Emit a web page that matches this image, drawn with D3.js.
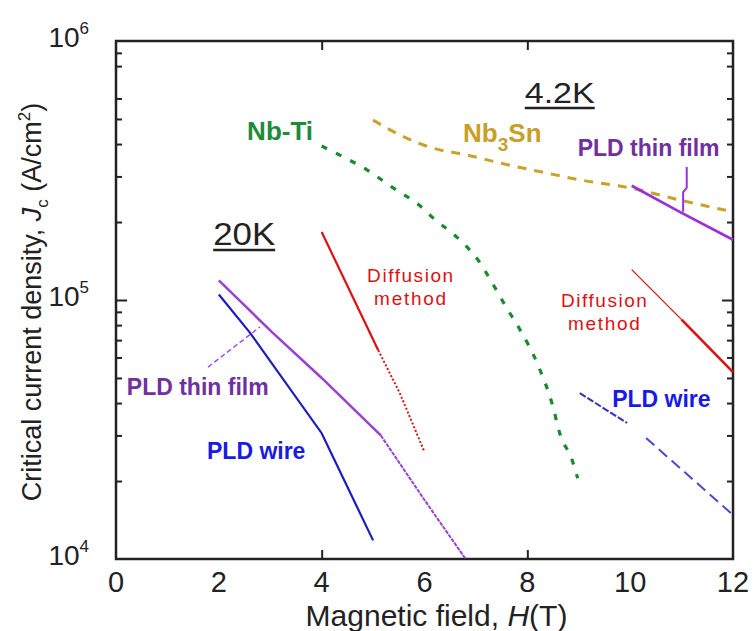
<!DOCTYPE html>
<html>
<head>
<meta charset="utf-8">
<script src="https://cdn.jsdelivr.net/npm/d3@7"></script>
<style>
  body { margin: 0; background: #fff; }
  text { font-family: Arial, "Liberation Sans", sans-serif; }
</style>
</head>
<body>
<script>
// tick values
var xTickLabels = [0, 2, 4, 6, 8, 10, 12];
var xTickMarks = [4, 8];
var yExponents = [4, 5, 6];
var yMinor = [2e4, 3e4, 4e4, 5e4, 6e4, 7e4, 8e4, 9e4, 2e5, 3e5, 4e5, 5e5, 6e5, 8e5, 9e5];

// curves: magnetic field H (T) and Jc (A/cm2)
var nbTiH  = [4.0, 4.3, 4.88, 5.39, 5.9, 6.16, 6.75, 7.05, 7.3, 7.6, 7.86, 8.19, 8.5, 8.63, 8.87, 8.98];
var nbTiJc = [3.93e5, 3.67e5, 3.18e5, 2.71e5, 2.32e5, 2.08e5, 1.66e5, 1.42e5, 1.18e5, 9.3e4, 7.66e4, 5.71e4, 3.86e4, 3.06e4, 2.41e4, 2.05e4];

var nb3SnH  = [5.0, 5.52, 6.16, 6.83, 7.47, 8.38, 9.02, 10.0, 10.97, 12.0];
var nb3SnJc = [4.95e5, 4.34e5, 3.86e5, 3.63e5, 3.38e5, 3.09e5, 2.91e5, 2.71e5, 2.43e5, 2.19e5];

var film20H  = [2.0, 3.05, 4.0, 5.15];
var film20Jc = [1.19e5, 7.46e4, 5.0e4, 3.0e4];
var film20bH  = [5.15, 6.0, 6.8];
var film20bJc = [3.0e4, 1.69e4, 1.0e4];

var wire20H  = [2.0, 2.6, 4.0, 5.0];
var wire20Jc = [1.05e5, 7.5e4, 3.06e4, 1.18e4];

var diff20H  = [4.0, 5.1];
var diff20Jc = [1.83e5, 6.4e4];
var diff20bH  = [5.1, 5.52, 6.0];
var diff20bJc = [6.4e4, 4.37e4, 2.59e4];

var film4H  = [10.03, 11.0, 12.0];
var film4Jc = [2.76e5, 2.17e5, 1.71e5];

var diff4H  = [10.03, 11.0];
var diff4Jc = [1.31e5, 8.4e4];
var diff4bH  = [11.0, 12.0];
var diff4bJc = [8.4e4, 5.27e4];

var wire4H  = [9.02, 9.94];
var wire4Jc = [4.37e4, 3.35e4];
var wire4bH  = [10.31, 12.0];
var wire4bJc = [2.93e4, 1.48e4];

// leader lines
var lead20H  = [1.79, 2.8];
var lead20Jc = [5.51e4, 7.87e4];
var lead4H  = [11.1, 11.1, 11.03, 11.03];
var lead4Jc = [3.26e5, 2.71e5, 2.61e5, 2.19e5];

var W = 756, H = 631;
var margin = {top: 41, right: 23, bottom: 72, left: 116};

var svg = d3.select('body').append('svg')
    .attr('width', W)
    .attr('height', H);

var x = d3.scaleLinear().domain([0, 12]).range([margin.left, W - margin.right]);
var y = d3.scaleLog().domain([1e4, 1e6]).range([H - margin.bottom, margin.top]);

function zip(a, b) {
    return a.map(function (v, i) { return [v, b[i]]; });
}

var line = d3.line()
    .x(function (d) { return x(d[0]); })
    .y(function (d) { return y(d[1]); });
var smooth = d3.line()
    .curve(d3.curveMonotoneX)
    .x(function (d) { return x(d[0]); })
    .y(function (d) { return y(d[1]); });

// ticks (inward)
function tickAxis(axis, transform) {
    var g = svg.append('g').attr('transform', transform).call(axis);
    g.select('.domain').remove();
    g.selectAll('.tick line').attr('stroke', '#222').attr('stroke-width', 2);
    g.selectAll('.tick text').remove();
}
var x0 = x(0), x1 = x(12), yb = y(1e4), yt = y(1e6);
tickAxis(d3.axisBottom(x).tickValues(xTickMarks).tickSize(-9), 'translate(0,' + yb + ')');
tickAxis(d3.axisTop(x).tickValues(xTickMarks).tickSize(-9), 'translate(0,' + yt + ')');
tickAxis(d3.axisLeft(y).tickValues(yMinor).tickSize(-6), 'translate(' + x0 + ',0)');
tickAxis(d3.axisLeft(y).tickValues([1e5]).tickSize(-11), 'translate(' + x0 + ',0)');
tickAxis(d3.axisRight(y).tickValues(yMinor).tickSize(-6), 'translate(' + x1 + ',0)');
tickAxis(d3.axisRight(y).tickValues([1e5]).tickSize(-11), 'translate(' + x1 + ',0)');

// frame
svg.append('rect')
    .attr('x', x0).attr('y', yt)
    .attr('width', x1 - x0).attr('height', yb - yt)
    .attr('fill', 'none')
    .attr('stroke', '#222')
    .attr('stroke-width', 2.5);

// tick labels
svg.selectAll('.xlab')
    .data(xTickLabels)
    .enter().append('text')
    .attr('class', 'xlab')
    .attr('x', function (d) { return x(d); })
    .attr('y', yb + 33)
    .attr('text-anchor', 'middle')
    .attr('font-size', 29)
    .attr('fill', '#222')
    .text(function (d) { return d; });

var ylab = svg.selectAll('.ylab')
    .data(yExponents)
    .enter().append('text')
    .attr('class', 'ylab')
    .attr('x', 89)
    .attr('y', function (d) { return y(Math.pow(10, d)) + 6; })
    .attr('text-anchor', 'end')
    .attr('font-size', 28)
    .attr('fill', '#222');
ylab.append('tspan').text('10');
ylab.append('tspan').attr('font-size', 17).attr('dy', -13).text(function (d) { return d; });

// axis titles
var xt = svg.append('text')
    .attr('x', (x0 + x1) / 2 + 12)
    .attr('y', 626)
    .attr('text-anchor', 'middle')
    .attr('font-size', 30)
    .attr('fill', '#222');
xt.append('tspan').text('Magnetic field, ');
xt.append('tspan').attr('font-style', 'italic').text('H');
xt.append('tspan').text('(T)');

var yt2 = svg.append('text')
    .attr('transform', 'translate(41,' + ((yt + yb) / 2 + 2) + ') rotate(-90)')
    .attr('text-anchor', 'middle')
    .attr('font-size', 27)
    .attr('fill', '#222');
yt2.append('tspan').text('Critical current density, ');
yt2.append('tspan').attr('font-style', 'italic').text('J');
yt2.append('tspan').attr('font-size', 17).attr('dy', 7).text('c');
yt2.append('tspan').attr('dy', -7).text(' (A/cm');
yt2.append('tspan').attr('font-size', 17).attr('dy', -11).text('2');
yt2.append('tspan').attr('dy', 11).text(')');

// curves
function curve(h, j, color, width, dash, gen) {
    svg.append('path')
        .datum(zip(h, j))
        .attr('d', gen || line)
        .attr('fill', 'none')
        .attr('stroke', color)
        .attr('stroke-width', width)
        .attr('stroke-dasharray', dash || null);
}

curve(nb3SnH, nb3SnJc, '#c9a227', 3, '9,8', smooth);
curve(nbTiH, nbTiJc, '#1a8a30', 3.2, '6,10', smooth);
curve(film20H, film20Jc, '#9b3fd6', 2.5);
curve(film20bH, film20bJc, '#9b3fd6', 2, '4,1');
curve(wire20H, wire20Jc, '#1c1cc0', 2.2);
curve(diff20H, diff20Jc, '#e01010', 2.2);
curve(diff20bH, diff20bJc, '#e01010', 2, '2,2');
curve(film4H, film4Jc, '#9b30d9', 2.8);
curve(diff4H, diff4Jc, '#e01010', 1.3);
curve(diff4bH, diff4bJc, '#e01010', 2.6);
curve(wire4H, wire4Jc, '#3030c8', 2, '7,2');
curve(wire4bH, wire4bJc, '#4848d0', 2, '11,6');
curve(lead20H, lead20Jc, '#a050e0', 1.5, '5,3');
curve(lead4H, lead4Jc, '#9b30d9', 2);

// labels
function label(h, j, txt, color, size, weight) {
    return svg.append('text')
        .attr('x', x(h))
        .attr('y', y(j))
        .attr('font-size', size)
        .attr('font-weight', weight || 'normal')
        .attr('fill', color)
        .text(txt);
}

function underlined(h, j, txt, size, len) {
    var t = label(h, j, txt, '#222', size);
    t.attr('textLength', len).attr('lengthAdjust', 'spacingAndGlyphs');
    svg.append('line')
        .attr('x1', x(h)).attr('x2', x(h) + len)
        .attr('y1', y(j) + 5).attr('y2', y(j) + 5)
        .attr('stroke', '#222').attr('stroke-width', 2.5);
}
underlined(1.89, 1.63e5, '20K', 31, 62);
underlined(7.95, 5.76e5, '4.2K', 29, 70);

label(2.55, 4.15e5, 'Nb-Ti', '#1e8a3a', 26, 'bold');
var sn = label(6.75, 4.07e5, 'Nb', '#c8a028', 26, 'bold');
sn.append('tspan').attr('font-size', 19).attr('dy', 9).text('3');
sn.append('tspan').attr('dy', -9).text('Sn');

label(8.98, 3.6e5, 'PLD thin film', '#7030a0', 23, 'bold');
label(0.21, 4.3e4, 'PLD thin film', '#7030a0', 23, 'bold');
label(1.77, 2.43e4, 'PLD wire', '#1a1ae6', 23, 'bold');
label(9.65, 3.86e4, 'PLD wire', '#1a1ae6', 23, 'bold');

function diffusion(h, j1, j2) {
    label(h, j1, 'Diffusion', '#e01010', 19).attr('text-anchor', 'middle')
        .attr('textLength', 86).attr('lengthAdjust', 'spacing');
    label(h, j2, 'method', '#e01010', 19).attr('text-anchor', 'middle')
        .attr('textLength', 72).attr('lengthAdjust', 'spacing');
}
diffusion(5.72, 1.17e5, 9.57e4);
diffusion(9.49, 9.4e4, 7.66e4);
</script>
</body>
</html>
